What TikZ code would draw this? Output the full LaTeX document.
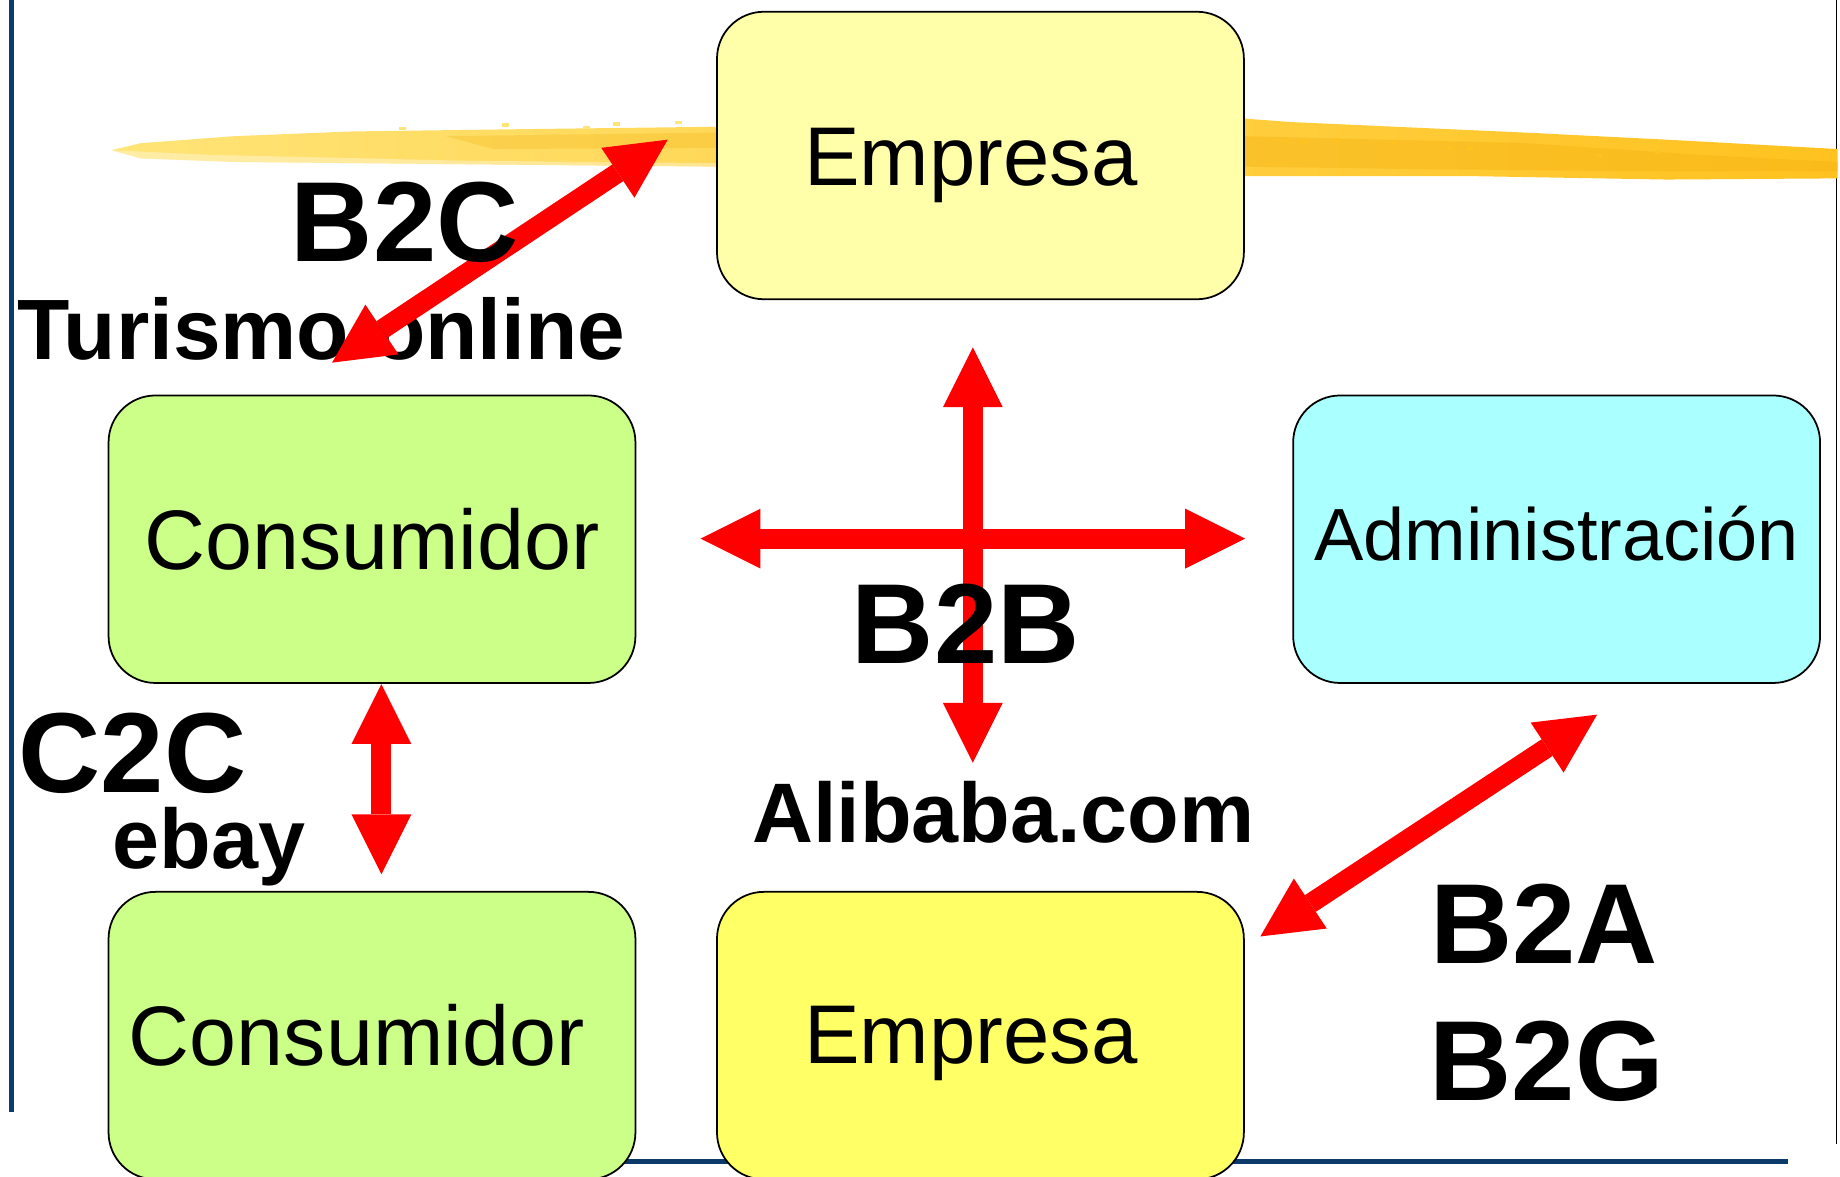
\documentclass[tikz,border=0pt]{standalone}
\usepackage{fontspec}
\setmainfont{Liberation Sans}
\usetikzlibrary{arrows.meta}
\definecolor{navy}{HTML}{0B3A6B}
\definecolor{empA}{HTML}{FFFFAA}
\definecolor{empB}{HTML}{FFFF66}
\definecolor{consC}{HTML}{CCFF88}
\definecolor{admC}{HTML}{AAFFFF}
\definecolor{hlA}{HTML}{FFE477}
\definecolor{hlB}{HTML}{FFC21F}
\definecolor{hlC}{HTML}{F5B414}
\begin{document}
\begin{tikzpicture}[x=0.5pt,y=-0.5pt,
  box/.style={draw=black, line width=0.75pt, rounded corners=20pt,
    minimum width=224.5pt, minimum height=122.5pt, inner sep=0pt,
    font=\fontsize{36}{40}\selectfont},
  dbl/.style={draw=red, line width=8.5pt,
    {Triangle[length=25.5pt,width=25.5pt,line width=0pt]}-{Triangle[length=25.5pt,width=25.5pt,line width=0pt]}},
  biglbl/.style={font=\fontsize{48.5}{50}\selectfont\bfseries, inner sep=0pt, anchor=base},
  sublbl/.style={font=\fontsize{36}{40}\selectfont\bfseries, inner sep=0pt, anchor=base},
  frameline/.style={draw=navy, line width=2pt}]
\useasboundingbox (0,0) rectangle (1568,1003);
% frame lines
\coordinate (lt) at (10,0);
\coordinate (lb) at (10,948);
\coordinate (bl) at (500,990);
\coordinate (br) at (1524,990);
\coordinate (rt) at (1565,0);
\coordinate (rb) at (1565,975);
\draw[frameline] (lt) -- (lb);
\draw[draw=navy, line width=2.2pt] (bl) -- (br);
\draw[black, line width=0.6pt] (rt) -- (rb);
% highlighter stroke
\shade[left color=hlA, right color=hlB]
  (95,128) -- (120,122) -- (200,116) -- (300,112) -- (450,110) -- (611,108)
  -- (800,105) -- (1060,101) -- (1100,104) -- (1300,113) -- (1420,119)
  -- (1566,127) -- (1566,152) -- (1420,153) -- (1250,150) -- (1060,150)
  -- (800,146) -- (611,142) -- (400,140) -- (200,138) -- (120,135) -- cycle;
\fill[hlC, opacity=0.45] (1060,116) -- (1300,122) -- (1450,132) -- (1566,138)
  -- (1566,146) -- (1400,146) -- (1200,144) -- (1060,142) -- cycle;
\fill[hlC, opacity=0.3] (380,116) -- (611,113) -- (611,126) -- (420,127) -- cycle;
\fill[white, opacity=0.35] (95,128) -- (180,132) -- (400,137) -- (611,139)
  -- (611,142) -- (400,140) -- (200,138) -- (120,135) -- cycle;
\foreach \sx/\sy in {1093/119,1109/120,1137/118,1185/120,1233/125,1250/125,1360/131,1410/128}
  \fill[hlB] (\sx,\sy) rectangle ++(5,3);
\foreach \sx/\sy in {340/108,428/105,497/107,522/104,575/103}
  \fill[hlA] (\sx,\sy) rectangle ++(6,3);
% boxes
\node[box, fill=empA] (emp1) at (835.5,132.5) {\fontsize{35.5}{40}\selectfont\raisebox{-12.75pt}[0pt][0pt]{Empresa}\kern8pt};
\node[box, fill=consC] (cons1) at (317,459.5) {Consumidor};
\node[box, fill=admC] (adm) at (1326.5,459.5) {\fontsize{31.5}{36}\selectfont\raisebox{-9.25pt}[0pt][0pt]{Administración}};
\node[box, fill=consC] (cons2) at (317,882.5) {Consumidor\kern13pt};
\node[box, fill=empB] (emp2) at (835.5,882.5) {\fontsize{35.5}{40}\selectfont\raisebox{-11.75pt}[0pt][0pt]{Empresa}\kern8pt};
% label under arrow
\node[sublbl, font=\fontsize{36.5}{40}\selectfont\bfseries] (tur) at (274,306) {Turismo online};
% arrows
\coordinate (b2cA) at (283,309);
\coordinate (b2cB) at (569,119);
\coordinate (hL) at (597,459);
\coordinate (hR) at (1061,459);
\coordinate (vT) at (829,296);
\coordinate (vB) at (829,650);
\coordinate (c2cT) at (325,583);
\coordinate (c2cB) at (325,745);
\coordinate (b2aA) at (1074,798);
\coordinate (b2aB) at (1361,609);
\draw[dbl] (b2cA) -- (b2cB);
\draw[dbl] (hL) -- (hR);
\draw[dbl] (vT) -- (vB);
\draw[dbl] (c2cT) -- (c2cB);
\draw[dbl] (b2aA) -- (b2aB);
% labels
\node[biglbl] (b2c) at (345,223) {B2C};
\node[biglbl] (b2b) at (823,565) {B2B};
\node[biglbl] (c2c) at (113,675) {C2C};
\node[sublbl] (ebay) at (178,740) {ebay};
\node[sublbl] (ali) at (855,718) {Alibaba.com};
\node[biglbl] (b2a) at (1316,821) {B2A};
\node[biglbl] (b2g) at (1318,938) {B2G};
\end{tikzpicture}
\end{document}
